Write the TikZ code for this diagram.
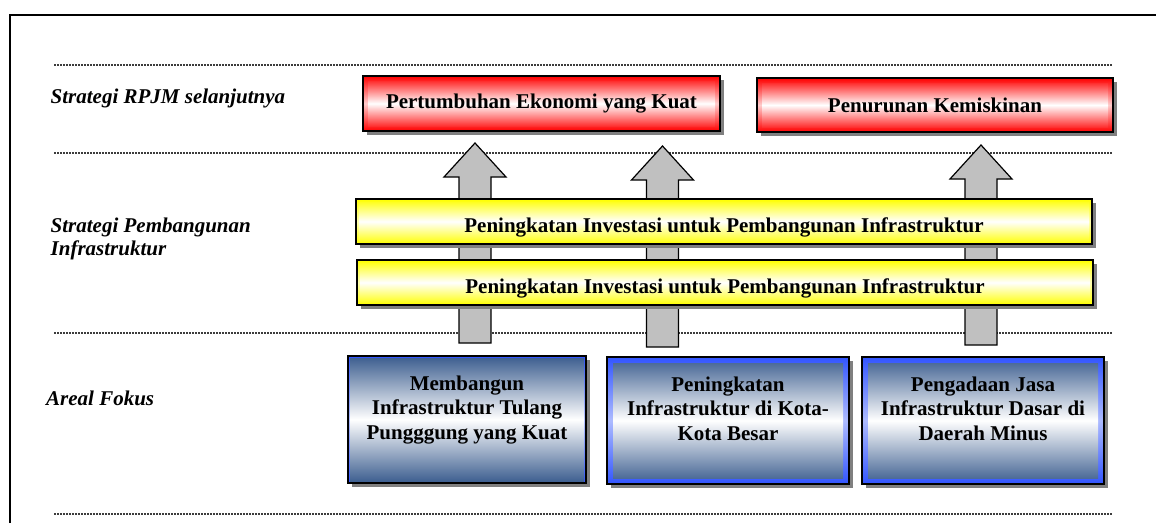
\documentclass[tikz,border=0pt]{standalone}
\usepackage{fontspec}
\setmainfont{Liberation Serif}
\usetikzlibrary{shadows,calc}

\definecolor{birubaja}{RGB}{58,92,142}
\definecolor{biruterang}{RGB}{50,85,255}
\definecolor{abupanah}{RGB}{192,192,192}
\definecolor{garis}{RGB}{60,60,60}

\tikzset{
    kotak/.style={draw=black, line width=1.2pt, inner sep=0pt, align=center,
        font=\fontsize{21}{24.5}\selectfont\bfseries,
        drop shadow={shadow xshift=4pt, shadow yshift=-4pt, fill=black!50, opacity=1}},
    bevel/.style n args={4}{top color=#1, bottom color=#1, middle color=#2,
        path picture={\fill[top color=#3, bottom color=#3, middle color=white]
            ($(path picture bounding box.south west)+(#4,#4)$) rectangle
            ($(path picture bounding box.north east)-(#4,#4)$);}},
    merah/.style={kotak, bevel={red}{red!20}{red}{5pt}},
    kuning/.style={kotak, bevel={yellow}{yellow!30}{yellow}{3pt},
        text height=21pt, text depth=0pt},
    biru/.style={kotak, bevel={biruterang}{biruterang!40}{birubaja}{#1},
        minimum height=127, text depth=24pt},
    labelbaris/.style={anchor=west, align=left, inner sep=0pt,
        font=\fontsize{21}{23}\selectfont\bfseries\itshape},
    panah/.style={draw=black, line width=1.2pt, fill=abupanah},
    garistitik/.style={draw=garis, line width=1.8pt, dash pattern=on 2pt off 1pt}
}

\begin{document}
\begin{tikzpicture}[x=1pt, y=-1pt]
    \useasboundingbox (0,0) rectangle (1156,523);
    \draw[line width=2pt] (9.5,523) -- (9.5,15) -- (1156,15);

    % ~~~~ Garis pemisah ~~~~ %
    \foreach \y in {65,153,333,514}
        \draw[garistitik] (54,\y) -- (1112,\y);

    % ~~~~ Label baris ~~~~ %
    \node[labelbaris] (lblRpjm) at (50.5,98) {Strategi RPJM selanjutnya};
    \node[labelbaris] (lblInfra) at (50.5,239) {Strategi Pembangunan\\Infrastruktur};
    \node[labelbaris] (lblFokus) at (46,398) {Areal Fokus};

    % ~~~~ Strategi RPJM ~~~~ %
    \node[merah, minimum width=357, minimum height=55] (ekonomi) at (541.5,103.5)
        {Pertumbuhan Ekonomi yang Kuat};
    \node[merah, minimum width=356, minimum height=54] (kemiskinan) at (935,105)
        {Penurunan Kemiskinan};

    % ~~~~ Panah ~~~~ %
    \foreach \x/\ujung/\pangkal in {475/143/343, 662.5/146/347, 981/145/345}
        \draw[panah] (\x-16,\pangkal) -- (\x-16,\ujung+34) -- (\x-31,\ujung+34)
            -- (\x,\ujung) -- (\x+31,\ujung+34) -- (\x+16,\ujung+34)
            -- (\x+16,\pangkal) -- cycle;

    % ~~~~ Strategi infrastruktur ~~~~ %
    \node[kuning, minimum width=736, minimum height=45] (investasiA) at (724,221.5)
        {Peningkatan Investasi untuk Pembangunan Infrastruktur};
    \node[kuning, minimum width=736, minimum height=45] (investasiB) at (725,282.5)
        {Peningkatan Investasi untuk Pembangunan Infrastruktur};

    % ~~~~ Areal fokus ~~~~ %
    \node[biru=2pt, minimum width=238] (tulang) at (467,419.5)
        {Membangun\\Infrastruktur Tulang\\Pungggung yang Kuat};
    \node[biru=6pt, minimum width=242] (kota) at (728,420.5)
        {Peningkatan\\Infrastruktur di Kota-\\Kota Besar};
    \node[biru=6pt, minimum width=242] (daerah) at (983,420.5)
        {Pengadaan Jasa\\Infrastruktur Dasar di\\Daerah Minus};
\end{tikzpicture}
\end{document}
